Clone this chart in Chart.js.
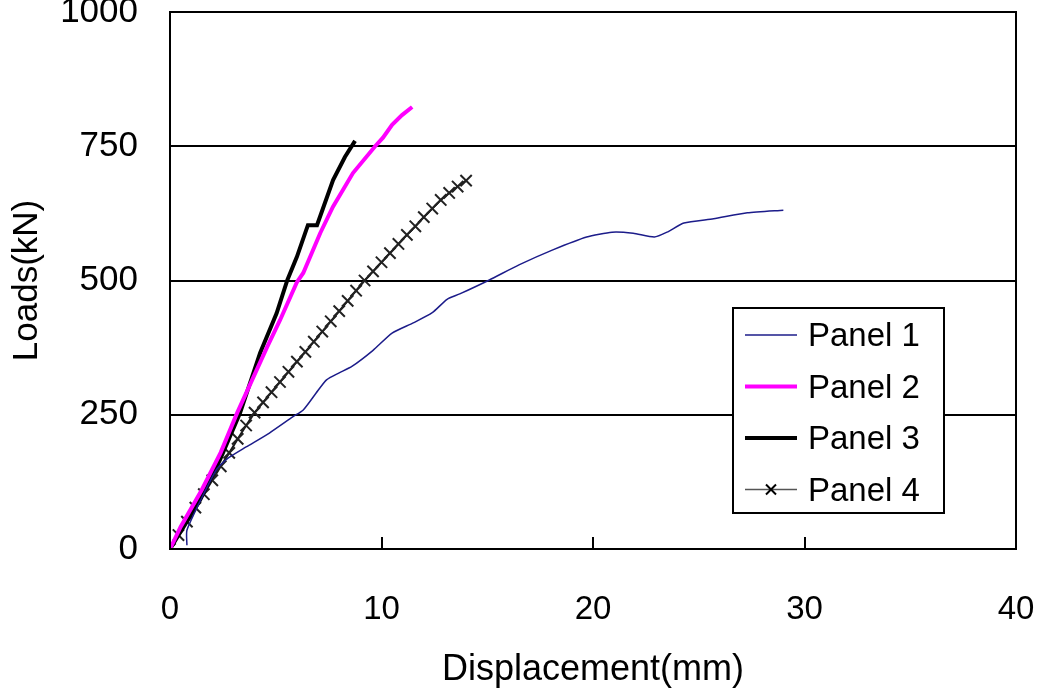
<!DOCTYPE html>
<html lang="en">
<head>
  <meta charset="UTF-8">
  <title>Loads vs Displacement</title>
  <script src="https://cdn.jsdelivr.net/npm/chart.js"></script>
  <style>
    html, body { margin: 0; padding: 0; background: #ffffff; }
    #wrap { width: 1040px; height: 696px; }
  </style>
</head>
<body>
  <div id="wrap"><canvas id="loadChart"></canvas></div>

  <script>
    const seriesNames = ["Panel 1", "Panel 2", "Panel 3", "Panel 4"];

    // displacement (mm) / load (kN)
    const panel1Disp = [0.8, 0.8, 1.5, 2.2, 2.7, 3.6, 4.7, 5.8, 6.3, 6.9, 7.4, 8.0, 8.6, 9.6, 10.5, 11.5, 12.4, 13.1, 13.7, 15.1, 16.5, 18.1, 19.7, 20.9, 21.9, 22.9, 23.5, 24.3, 25.7, 27.3, 29.0];
    const panel1Load = [7, 35, 95, 148, 168, 190, 216, 246, 259, 290, 315, 328, 340, 370, 402, 421, 440, 465, 475, 501, 529, 557, 581, 590, 588, 581, 590, 607, 615, 626, 631];

    const panel2Disp = [0, 0.5, 1.5, 2.4, 3.17, 4.59, 5.2, 6.0, 6.3, 7.1, 7.7, 8.65, 9.7, 10.07, 10.5, 10.97, 11.45];
    const panel2Load = [0, 41, 110, 180, 253, 376, 426, 497, 514, 588, 637, 700, 750, 766, 790, 808, 823];

    const panel3Disp = [0, 0.7, 1.42, 2.36, 3.31, 4.26, 5.04, 5.55, 6.0, 6.52, 6.95, 7.24, 7.71, 8.27, 8.75];
    const panel3Load = [0, 45, 91, 166, 253, 365, 439, 501, 544, 603, 603, 635, 687, 730, 760];

    const panel4Disp = [0, 0.4, 0.8, 1.2, 1.6, 2.0, 2.4, 2.8, 3.2, 3.6, 4.0, 4.4, 4.8, 5.2, 5.6, 6.0, 6.4, 6.8, 7.2, 7.6, 8.0, 8.4, 8.8, 9.2, 9.6, 10.0, 10.4, 10.8, 11.2, 11.6, 12.0, 12.4, 12.8, 13.2, 13.6, 14.0];
    const panel4Load = [0, 26, 51, 77, 102, 128, 154, 179, 205, 230, 254, 273, 292, 311, 330, 349, 367, 386, 405, 424, 443, 462, 481, 500, 517, 534, 551, 568, 585, 601, 618, 634, 650, 663, 675, 686];

    const xTicks = [0, 10, 20, 30, 40];
    const yTicks = [0, 250, 500, 750, 1000];

    const FONT = "'Liberation Sans', Arial, sans-serif";

    function toPoints(xs, ys) {
      return xs.map((x, i) => ({ x: x, y: ys[i] }));
    }

    // plot frame + inward x tick marks
    const frame = {
      id: "frame",
      afterDatasetsDraw(chart) {
        const { ctx, chartArea: a, scales } = chart;
        ctx.save();
        ctx.strokeStyle = "#000";
        ctx.lineWidth = 2;
        ctx.strokeRect(a.left, a.top, a.right - a.left, a.bottom - a.top);
        ctx.beginPath();
        xTicks.slice(1, -1).forEach(v => {
          const px = Math.round(scales.x.getPixelForValue(v));
          ctx.moveTo(px, a.bottom);
          ctx.lineTo(px, a.bottom - 12);
        });
        ctx.stroke();
        ctx.restore();
      }
    };

    // boxed legend inside the plot
    const boxLegend = {
      id: "boxLegend",
      afterDraw(chart) {
        const ctx = chart.ctx;
        const x0 = 733, y0 = 308, w = 211, h = 205;
        ctx.save();
        ctx.fillStyle = "#fff";
        ctx.fillRect(x0, y0, w, h);
        ctx.strokeStyle = "#000";
        ctx.lineWidth = 2;
        ctx.strokeRect(x0, y0, w, h);
        ctx.font = "33px " + FONT;
        ctx.textBaseline = "middle";
        ctx.fillStyle = "#000";
        chart.data.datasets.forEach((ds, i) => {
          const cy = y0 + 27 + i * 51.5;
          ctx.beginPath();
          ctx.strokeStyle = i === 3 ? "#555" : ds.borderColor;
          ctx.lineWidth = i === 3 ? 1.5 : ds.borderWidth;
          ctx.moveTo(x0 + 12, cy);
          ctx.lineTo(x0 + 64, cy);
          ctx.stroke();
          if (i === 3) {
            ctx.beginPath();
            ctx.strokeStyle = "#000";
            ctx.lineWidth = 2;
            const mx = x0 + 38, r = 5;
            ctx.moveTo(mx - r, cy - r); ctx.lineTo(mx + r, cy + r);
            ctx.moveTo(mx - r, cy + r); ctx.lineTo(mx + r, cy - r);
            ctx.stroke();
          }
          ctx.fillText(seriesNames[i], x0 + 75, cy + 2);
        });
        ctx.restore();
      }
    };

    const ctx = document.getElementById("loadChart").getContext("2d");
    const chart = new Chart(ctx, {
      type: "line",
      data: {
        datasets: [
          {
            label: seriesNames[0],
            data: toPoints(panel1Disp, panel1Load),
            borderColor: "#1c1c8a",
            borderWidth: 1.5,
            pointRadius: 0,
            tension: 0.2
          },
          {
            label: seriesNames[1],
            data: toPoints(panel2Disp, panel2Load),
            borderColor: "#ff00ff",
            borderWidth: 4,
            pointRadius: 0,
            tension: 0
          },
          {
            label: seriesNames[2],
            data: toPoints(panel3Disp, panel3Load),
            borderColor: "#000000",
            borderWidth: 4,
            pointRadius: 0,
            tension: 0
          },
          {
            label: seriesNames[3],
            data: toPoints(panel4Disp, panel4Load),
            borderColor: "#1a1a1a",
            borderWidth: 2,
            pointStyle: "crossRot",
            pointRadius: 8,
            pointBorderWidth: 2,
            pointBorderColor: "#222",
            tension: 0
          }
        ]
      },
      options: {
        responsive: true,
        maintainAspectRatio: false,
        animation: false,
        layout: { padding: { top: 12, right: 24, left: 0, bottom: 0 } },
        plugins: {
          legend: { display: false },
          tooltip: { enabled: false }
        },
        scales: {
          x: {
            type: "linear",
            min: 0,
            max: 40,
            afterBuildTicks: s => { s.ticks = xTicks.map(v => ({ value: v })); },
            afterFit: s => { s.height = 147; s.paddingLeft = 0; s.paddingRight = 0; },
            grid: { display: false, drawTicks: false },
            border: { display: false },
            ticks: {
              color: "#000",
              padding: 41,
              maxRotation: 0,
              callback: v => String(v),
              font: { family: FONT, size: 33 }
            },
            title: {
              display: true,
              text: "Displacement(mm)",
              color: "#000",
              padding: { top: 0, bottom: 4 },
              font: { family: FONT, size: 36 }
            }
          },
          y: {
            min: 0,
            max: 1000,
            afterBuildTicks: s => { s.ticks = yTicks.map(v => ({ value: v })); },
            afterFit: s => { s.width = 170; s.paddingTop = 0; s.paddingBottom = 0; },
            grid: {
              drawTicks: false,
              lineWidth: 2,
              color: c => (c.tick.value > 0 && c.tick.value < 1000) ? "#000" : "rgba(0,0,0,0)"
            },
            border: { display: false },
            ticks: {
              color: "#000",
              padding: 32,
              callback: v => String(v),
              font: { family: FONT, size: 35 }
            },
            title: {
              display: true,
              text: "Loads(kN)",
              color: "#000",
              padding: { top: 6, bottom: 0 },
              font: { family: FONT, size: 35 }
            }
          }
        }
      },
      plugins: [frame, boxLegend]
    });
  </script>
</body>
</html>
